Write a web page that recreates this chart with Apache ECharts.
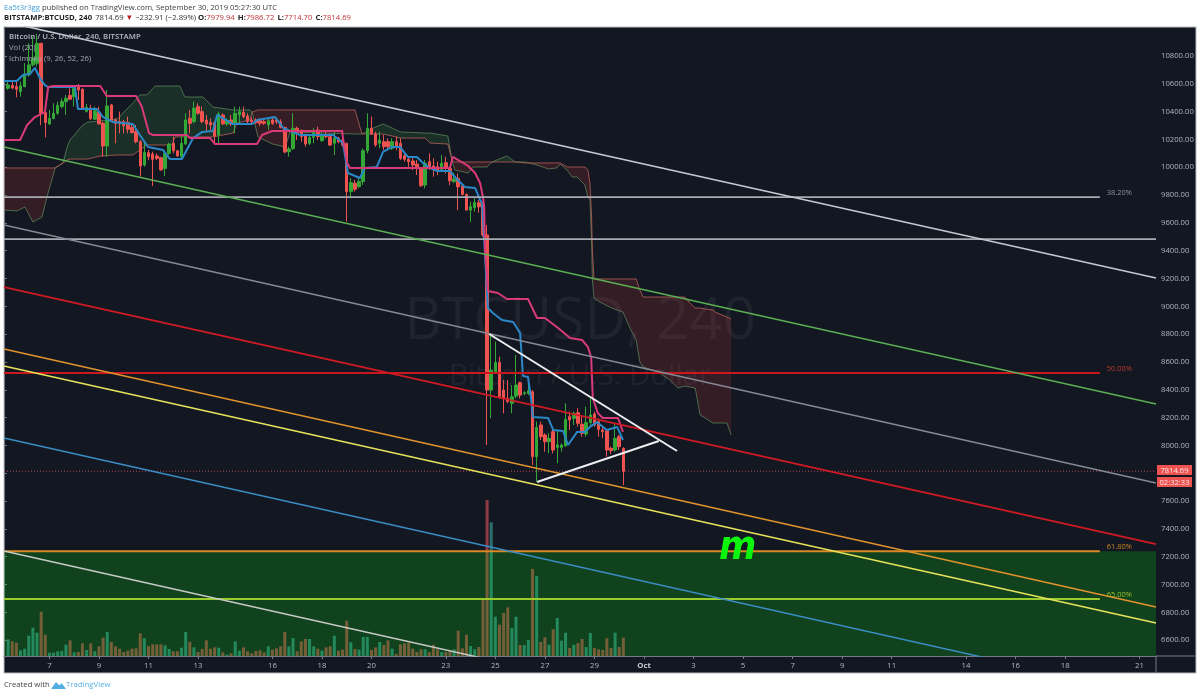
<!DOCTYPE html>
<html>
<head>
<meta charset="utf-8">
<style>html,body{margin:0;padding:0;background:#fff}#c{width:1200px;height:696px}</style>
<script src="https://cdn.jsdelivr.net/npm/echarts@6/dist/echarts.min.js"></script>
</head>
<body>
<div id="c"></div>
<script>
const opens = [
10568,10589,10580,10544,10580,10664,10736,10748,10891,10393,
10311,10350,10388,10436,10472,10517,10508,10575,10561,10402,
10426,10345,10393,10316,10153,10448,10340,10328,10328,10321,
10287,10256,10184,10016,10105,10095,10081,10069,9992,10100,
10172,10119,10076,10167,10352,10328,10436,10400,10340,10321,
10321,10232,10376,10311,10340,10311,10376,10395,10369,10340,
10340,10335,10328,10304,10340,10340,10328,10287,10112,10134,
10280,10254,10232,10172,10215,10268,10191,10232,10220,10172,
10208,10196,10172,9825,9885,9861,9897,10119,10280,10239,
10172,10184,10184,10136,10184,10172,10083,10057,10045,10023,
9992,9872,10040,10009,10004,9985,10033,9992,9896,9920,
9865,9805,9692,9709,9745,9728,9513,8398,8530,8597,
8398,8338,8303,8355,8451,8374,8374,8386,7919,8147,
8075,8027,8099,7986,7986,7996,8207,8195,8235,8152,
8082,8164,8226,8171,8111,8106,7979,7967,8063,7979.94];
const closes = [
10592,10570,10561,10585,10671,10736,10784,10891,10388,10321,
10352,10388,10446,10472,10496,10489,10568,10556,10417,10431,
10350,10407,10311,10153,10441,10335,10316,10311,10297,10273,
10249,10184,10009,10108,10076,10057,10064,9980,10100,10167,
10119,10081,10172,10340,10316,10424,10388,10328,10311,10304,
10225,10383,10311,10335,10311,10388,10400,10364,10328,10326,
10321,10316,10316,10335,10316,10326,10287,10110,10131,10280,
10249,10220,10167,10215,10256,10220,10232,10220,10160,10208,
10184,10160,9825,9889,9842,9897,10119,10280,10239,10160,
10196,10148,10148,10184,10143,10064,10057,10040,10016,9992,
9867,10028,9992,9992,9980,10028,9992,9903,9915,9860,
9805,9692,9716,9747,9716,9513,8398,8542,8597,8350,
8338,8315,8350,8434,8362,8379,8394,7919,8130,8063,
8027,8051,7967,8003,8003,8187,8183,8231,8159,8087,
8164,8219,8147,8116,8099,7967,7962,8051,7991,7814.69];
const lows = [
10556,10561,10503,10508,10575,10652,10724,10724,10304,10215,
10304,10345,10376,10424,10376,10484,10436,10484,10412,10393,
10340,10340,10311,10076,10076,10328,10172,10244,10244,10244,
10244,10172,9933,10004,10052,9866,10052,9976,9937,10088,
10100,10076,10064,10160,10244,10316,10376,10316,10256,10256,
10172,10172,10304,10297,10297,10244,10316,10352,10316,10311,
10311,10297,10304,10268,10304,10311,10280,10100,10076,10124,
10196,10184,10148,10160,10172,10196,10184,10208,10153,10088,
10172,10148,9609,9777,9825,9849,9873,10100,10232,10148,
10136,10124,10124,10124,10124,10052,10040,10004,9980,9944,
9860,9848,9980,9932,9944,9968,9956,9872,9889,9692,
9800,9688,9608,9680,9673,9500,8003,8195,8518,8338,
8231,8303,8231,8338,8338,8360,8362,7859,7739,8039,
7955,7943,7943,7871,7955,7991,8111,8147,8135,8063,
8063,8147,8135,8063,8051,7919,7938,7955,7967,7714.70];
const highs = [
10628,10628,10616,10616,10748,10891,10939,10960,10891,10393,
10412,10460,10472,10496,10520,10568,10592,10599,10568,10455,
10448,10436,10436,10328,10556,10455,10352,10400,10340,10364,
10311,10304,10196,10184,10124,10112,10100,10076,10124,10177,
10220,10124,10232,10388,10412,10472,10460,10436,10376,10352,
10328,10400,10388,10352,10376,10436,10436,10436,10388,10359,
10352,10352,10345,10352,10364,10359,10345,10292,10148,10388,
10292,10273,10244,10232,10280,10292,10249,10256,10244,10256,
10220,10268,10177,9921,9909,9921,10136,10388,10364,10256,
10256,10232,10208,10208,10220,10208,10100,10076,10076,10052,
10000,10052,10100,10064,10040,10088,10076,10004,9961,9956,
9879,9812,9752,9776,9764,9745,9585,8794,8746,8638,
8470,8470,8434,8650,8458,8390,8482,8398,8171,8171,
8087,8087,8111,8111,8015,8303,8243,8243,8267,8207,
8279,8338,8243,8195,8135,8111,7991,8159,8075,7986.72];
const volumes = [
50,44,40,17,22,61,85,70,133,64,
10,10,14,15,34,47,11,12,38,18,
38,14,29,55,72,42,29,22,12,16,
22,23,68,53,30,35,35,35,32,21,
14,14,25,72,43,26,12,21,47,22,
26,25,11,4,8,44,16,26,14,8,
15,17,11,29,19,23,29,72,29,54,
14,44,51,51,29,22,16,26,29,61,
16,19,106,41,21,19,57,57,18,26,
42,33,47,22,6,35,38,40,22,12,
20,20,12,34,20,12,12,16,20,76,
23,64,30,20,27,170,468,401,118,94,
129,146,84,118,33,33,48,261,240,42,
56,34,80,114,46,70,24,34,39,51,
27,69,24,20,18,53,24,70,27,55];

const kijunIdx = [0,3.9,5.6,7.5,9.9,10.7,11.9,23.3,24.9,32,33.4,35.1,36.1,44.3,45,49.9,51.1,61.3,62.5,64.9,81.9,82.1,83.1,83.8,108,108.7,110,111.2,112.4,114.1,115.3,116,116.3,116.5,117.2,119.6,121.8,126.9,129.1,131,133.9,137.1,140,141.4,142.2,142.6,143.8,145,148.7,149.9];
const kijunVal = [10196,10196,10304,10361,10397,10577,10584,10584,10512,10512,10433,10246,10232,10232,10210,10210,10167,10167,10232,10261,10261,10210,10031,9995,9995,10074,10052,10031,10009,9959,9887,9786,9714,9405,9110,9096,9053,9053,8916,8916,8852,8772,8758,8708,8636,8341,8233,8197,8197,8097];
const tenkanIdx = [0,3.1,4.6,6.3,7.5,8.7,9.9,10.7,17.2,17.9,22.5,24,26.4,28.8,31.2,32.9,34.9,38.5,40.2,43.1,45.8,48,50.6,51.6,55.5,60.1,61.3,65.6,66.8,67.6,71.7,79.7,82.1,83.3,86.2,87.4,90.3,91.8,94,95.9,97.8,100,101.5,102.7,104.9,108,109.2,110.4,111.6,114.1,115.3,115.8,117.2,118.4,120.6,123.3,125,125.7,126.9,127.6,128.1,131.8,133,135.4,136.6,138.8,140.7,141.9,143.6,146,148.5,149.9];
const tenkanVal = [10620,10620,10663,10671,10714,10642,10591,10577,10577,10419,10419,10361,10325,10318,10311,10232,10146,10124,10059,10059,10210,10254,10261,10376,10311,10311,10340,10361,10318,10282,10232,10232,10174,9959,9923,9995,10002,10110,10146,10146,10074,10074,10031,10002,9973,9973,9930,9894,9858,9851,9765,9743,8988,8952,8902,8887,8808,8499,8492,8348,8204,8197,8111,8104,8003,8097,8097,8133,8168,8111,8133,8039];

const cloudIdx = [
0,3.1,5.1,7,9.2,10.4,12.4,14.3,15.3,16,
19.1,20.3,23.3,27.4,31.2,32.9,34.6,36.6,40.7,41.4,
42.6,43.8,48.2,50.6,55.5,56.4,59.6,60.1,61.5,65.1,
68.1,69.3,85,86.7,89.4,91.8,94,95.9,102,103.2,
107.5,108.5,109.2,112.4,113.6,117,118.2,121.8,123.8,126.2,
129.1,131.8,133.9,134.7,136.4,137.6,138.8,140.7,141.4,141.9,
142.3,142.5,142.9,144.3,147.2,149.9,151.6,153.1,154,154.8,
158.4,161.3,163.2,164.9,166.1,167.4,168.6,169.8,171.7,172.2,
175.1,176.1];
const spanA = [
9693,9686,9714,9606,9642,9786,9995,10031,10146,10196,
10304,10325,10333,10347,10462,10520,10520,10584,10584,10584,
10584,10505,10505,10433,10412,10412,10412,10397,10218,10167,
10146,10254,10239,10239,10282,10311,10282,10254,10246,10246,
10225,10052,9980,9959,10002,10002,10038,10081,10038,10038,
10016,9988,9995,10023,9980,9930,9930,9872,9786,9765,
9477,9189,9060,9031,8988,8959,8844,8758,8600,8564,
8528,8470,8413,8427,8420,8413,8219,8197,8161,8161,
8161,8075];
const spanB = [
9995,9995,9995,9995,9995,9995,9995,10031,10052,10059,
10059,10059,10081,10088,10088,10124,10160,10160,10160,10218,
10218,10218,10218,10218,10246,10318,10340,10397,10412,10412,
10412,10412,10412,10239,10239,10239,10225,10210,10210,10174,
10167,10052,10038,10038,10038,10038,10038,10038,10038,10031,
10031,10031,10031,10031,10002,10002,10002,10002,9980,9887,
9657,9405,9197,9197,9197,9197,9197,9197,9117,9067,
9067,9067,9067,9067,9024,8988,8988,8981,8974,8959,
8923,8909];

const tickIdx = [11,23,35,47,65,77,89,107,119,131,143,155,167,179,191,203,215,233,245,257,275];
const tickLabels = ['7','9','11','13','16','18','20','23','25','27','29','Oct','3','5','7','9','11','14','16','18','21'];
const priceTicks = [6600,6800,7000,7200,7400,7600,7800,8000,8200,8400,8600,8800,9000,9200,9400,9600,9800,10000,10200,10400,10600,10800];

const channelNames = ['top','green','grey','red','orange','yellow','blue','lower'];
const channelStart = [11047,10146,9585,9139,8693,8571,8053,7241];
const channelEnd = [9204,8298,7730,7291,6838,6723,6198,5386];
const channelColors = ['#c5c8d0','#5cae54','#868994','#cf1a24','#e0922c','#e6e25a','#3a8dc4','#c6cac6'];
const channelWidths = [1.6,1.5,1.4,1.8,1.7,1.7,1.5,1.5];

const levelValues = [9786,9484,8520,7240,6895];
const levelEnds = [265.4,279,265.4,265.4,265.4];
const levelLabels = ['38.20%','','50.00%','61.80%','65.00%'];
const levelColors = ['#a8abb2','#a8abb2','#c9181e','#d98a22','#9ccc2c'];
const levelWidths = [1.7,1.7,2,2,2];
const levelLabelColors = ['#8f929b','','#c0392f','#c9851f','#9bc22a'];

const triangleTopIdx = [117.5,163], triangleTopVal = [8801,7960];
const triangleLowIdx = [129.1,158.6], triangleLowVal = [7737,8032];
const lastPrice = 7814.69;
const bandTop = 7240;

const categoryCount = 280;
const categories = Array.from({length:categoryCount},(_,i)=>String(i));
const blank = ['-','-','-','-'];
const candleData = [blank].concat(opens.map((o,i)=>[o,closes[i],lows[i],highs[i]]));
const volumeData = ['-'].concat(volumes.map((v,i)=>({value:v,itemStyle:{color:closes[i]>=opens[i]?'#2c6e70':'#8f3a44'}})));
const zip=(a,b)=>a.map((x,i)=>[x,b[i]]);
const tickMap = {}; tickIdx.forEach((t,i)=>tickMap[t]=tickLabels[i]);

const yMin=6486,yMax=11008.5,idxMax=categoryCount-1;
const ff='"Open Sans","Noto Sans",sans-serif';

// cloud runs: consecutive stretches where one span stays on top
const runs=[];let st=0;
for(let n=1;n<cloudIdx.length-1;n++){
  const s0=(spanA[st]+spanA[st+1])>=(spanB[st]+spanB[st+1]);
  const s1=(spanA[n]+spanA[n+1])>=(spanB[n]+spanB[n+1]);
  if(s0!==s1){runs.push([cloudIdx[st],spanA[st],st,n,s0?1:0]);st=n;}
}
runs.push([cloudIdx[st],spanA[st],st,cloudIdx.length-1,(spanA[st]+spanA[st+1])>=(spanB[st]+spanB[st+1])?1:0]);

const overlay=(extra)=>Object.assign({type:'line',xAxisIndex:1,yAxisIndex:0,showSymbol:false,silent:true,animation:false},extra);
const series=[];
series.push({type:'bar',name:'Vol',xAxisIndex:0,yAxisIndex:1,data:volumeData,barWidth:3,z:1,silent:true,animation:false});
series.push({type:'custom',name:'Cloud',xAxisIndex:1,yAxisIndex:0,data:runs,z:2,silent:true,animation:false,encode:{x:0,y:1},
  renderItem(p,api){
    const a=api.value(2),b=api.value(3),up=api.value(4);
    const pts=[];
    for(let n=a;n<=b;n++)pts.push(api.coord([cloudIdx[n],spanA[n]]));
    for(let n=b;n>=a;n--)pts.push(api.coord([cloudIdx[n],spanB[n]]));
    return {type:'polygon',shape:{points:pts},style:{fill:up?'rgba(76,175,80,0.16)':'rgba(244,67,54,0.15)'}};
  }});
series.push(overlay({name:'Span A',data:zip(cloudIdx,spanA),z:2,lineStyle:{color:'rgba(110,160,105,0.6)',width:1}}));
series.push(overlay({name:'Span B',data:zip(cloudIdx,spanB),z:2,lineStyle:{color:'rgba(205,105,95,0.7)',width:1}}));
series.push({type:'candlestick',name:'BTCUSD',xAxisIndex:0,yAxisIndex:0,data:candleData,barWidth:3,z:3,silent:true,animation:false,
  itemStyle:{color:'#34a836',color0:'#ef5350',borderColor:'#34a836',borderColor0:'#ef5350',borderWidth:1}});
series.push(overlay({name:'Tenkan',data:zip(tenkanIdx,tenkanVal),z:4,lineStyle:{color:'#2b88c8',width:2}}));
series.push(overlay({name:'Kijun',data:zip(kijunIdx,kijunVal),z:4,lineStyle:{color:'#d83a78',width:2}}));
series.push(overlay({name:'Band',data:[[0,bandTop],[idxMax,bandTop]],z:5,lineStyle:{width:0},areaStyle:{color:'rgba(5,255,10,0.19)',origin:'start',opacity:1}}));
series.push(overlay({name:'Last',data:[[0,lastPrice],[idxMax,lastPrice]],z:4,lineStyle:{color:'rgba(239,83,110,0.75)',width:1,type:[1,2]}}));
levelValues.forEach((v,i)=>{
  series.push(overlay({name:'Level'+i,data:[[0,v],[levelEnds[i],v]],z:6,lineStyle:{color:levelColors[i],width:levelWidths[i]},
    endLabel:{show:!!levelLabels[i],formatter:levelLabels[i],color:levelLabelColors[i]||'#888',fontSize:7.4,fontFamily:ff,offset:[-1,-4]}}));
});
channelNames.forEach((n,i)=>{
  series.push(overlay({name:n,data:[[0,channelStart[i]],[idxMax,channelEnd[i]]],z:6,lineStyle:{color:channelColors[i],width:channelWidths[i]}}));
});
series.push(overlay({name:'TriTop',data:zip(triangleTopIdx,triangleTopVal),z:7,lineStyle:{color:'#eceef0',width:2}}));
series.push(overlay({name:'TriLow',data:zip(triangleLowIdx,triangleLowVal),z:7,lineStyle:{color:'#eceef0',width:2}}));

const txt=(x,y,text,fontSize,fill,extra)=>Object.assign({type:'text',x,y,z:20,silent:true,style:Object.assign({text,fontSize,fontFamily:ff,fill,textVerticalAlign:'middle'},extra||{})});

const graphic=[
 {type:'rect',x:4,y:27,shape:{width:1192,height:646},z:-10,silent:true,style:{fill:'#131722',stroke:'#b9bbbf',lineWidth:1}},
 {type:'line',shape:{x1:1156,y1:656,x2:1156,y2:673},z:20,silent:true,style:{stroke:'#787b86',lineWidth:1}},
 {type:'line',shape:{x1:1156,y1:656,x2:1196,y2:656},z:20,silent:true,style:{stroke:'#787b86',lineWidth:1}},
 {type:'text',x:580,y:322,z:0,silent:true,style:{text:'BTCUSD, 240',fontSize:58,fontFamily:ff,fill:'rgba(135,138,150,0.11)',textAlign:'center',textVerticalAlign:'middle'}},
 {type:'text',x:580,y:377,z:0,silent:true,style:{text:'Bitcoin / U.S. Dollar',fontSize:29.3,fontFamily:ff,fill:'rgba(135,138,150,0.11)',textAlign:'center',textVerticalAlign:'middle'}},
 {type:'text',x:9,y:37,z:20,silent:true,style:{text:'Bitcoin / U.S. Dollar, 240, BITSTAMP',fontSize:7.8,fontFamily:ff,fontWeight:600,fill:'#b7bac2',textVerticalAlign:'middle'}},
 txt(9,48,'Vol (20)',7.7,'#a2a5ae'),
 txt(9,59,'Ichimoku (9, 26, 52, 26)',7.7,'#a2a5ae'),
 {type:'text',x:4,y:8,z:20,silent:true,style:{text:'{a|Ea5t3r3gg}{b| published on TradingView.com, September 30, 2019 05:27:30 UTC}',textVerticalAlign:'middle',fontFamily:ff,
   rich:{a:{fill:'#3f9fd8',fontSize:7.7,fontFamily:ff},b:{fill:'#404040',fontSize:7.7,fontFamily:ff}}}},
 {type:'text',x:4,y:18,z:20,silent:true,style:{text:'{b|BITSTAMP:BTCUSD, 240} {n|7814.69 }{t|▼}{n| −232.91 (−2.89%) }{b|O:}{r|7979.94} {b|H:}{r|7986.72} {b|L:}{r|7714.70} {b|C:}{r|7814.69}',textVerticalAlign:'middle',fontFamily:ff,
   rich:{b:{fill:'#222',fontSize:7.7,fontWeight:'bold',fontFamily:ff},n:{fill:'#333',fontSize:7.7,fontFamily:ff},r:{fill:'#c2343a',fontSize:7.7,fontFamily:ff},t:{fill:'#c0181e',fontSize:7.7,fontFamily:ff}}}},
 {type:'rect',x:1157,y:465,shape:{width:35,height:10},z:20,silent:true,style:{fill:'#ef5350'}},
 {type:'rect',x:1157,y:477,shape:{width:35,height:10},z:20,silent:true,style:{fill:'#ef5350'}},
 txt(1174.5,470.5,'7814.69',7.6,'#ffe6e6',{textAlign:'center'}),
 txt(1174.5,482.5,'02:32:33',7.6,'#ffe6e6',{textAlign:'center'}),
 {type:'text',x:719,y:548,z:30,silent:true,scaleX:0.78,scaleY:0.9,style:{text:'m',fontSize:46,fontWeight:'bold',fontStyle:'italic',fontFamily:'"DejaVu Sans",sans-serif',fill:'#0cf50c',textVerticalAlign:'middle'}},
 txt(4,685,'Created with',7.7,'#444'),
 {type:'polygon',z:20,silent:true,shape:{points:[[51,689],[56,682],[59.5,685.5],[61.5,683],[66,689]]},style:{fill:'#52aee0'}},
 txt(66,685,'TradingView',7.8,'#5ab2e2')
];

const hidden={show:false,axisLine:{show:false},axisTick:{show:false},axisLabel:{show:false},splitLine:{show:false}};
const option={
 animation:false,
 backgroundColor:'#ffffff',
 textStyle:{fontFamily:ff},
 grid:{left:4,right:44,top:27,height:629,containLabel:false},
 xAxis:[
  {type:'category',data:categories,boundaryGap:false,
   axisLine:{show:true,lineStyle:{color:'#787b86',width:1}},
   axisTick:{show:true,length:3,interval:(i)=>i in tickMap,lineStyle:{color:'#787b86'}},
   axisLabel:{show:true,interval:(i)=>i in tickMap,formatter:(v,i)=>{const t=tickMap[i];return t==='Oct'?'{b|Oct}':(t||'');},color:'#b2b5be',fontSize:7.8,margin:6,fontFamily:ff,
     rich:{b:{fontWeight:'bold',color:'#c8cad0',fontSize:7.8,fontFamily:ff}}},
   splitLine:{show:false}},
  Object.assign({type:'value',min:0,max:idxMax},hidden)
 ],
 yAxis:[
  {type:'value',position:'right',min:yMin,max:yMax,scale:true,
   axisLine:{show:true,lineStyle:{color:'#787b86',width:1}},
   axisTick:{show:true,length:3,customValues:priceTicks,lineStyle:{color:'#787b86'}},
   axisLabel:{show:true,customValues:priceTicks,formatter:(v)=>Number(v).toFixed(2),color:'#b2b5be',fontSize:7.7,margin:5,fontFamily:ff},
   splitLine:{show:false}},
  Object.assign({type:'value',position:'right',min:0,max:1887},hidden)
 ],
 tooltip:{show:false},
 series,
 graphic
};
const chart=echarts.init(document.getElementById('c'),null,{renderer:'canvas'});
chart.setOption(option);
</script>
</body>
</html>
